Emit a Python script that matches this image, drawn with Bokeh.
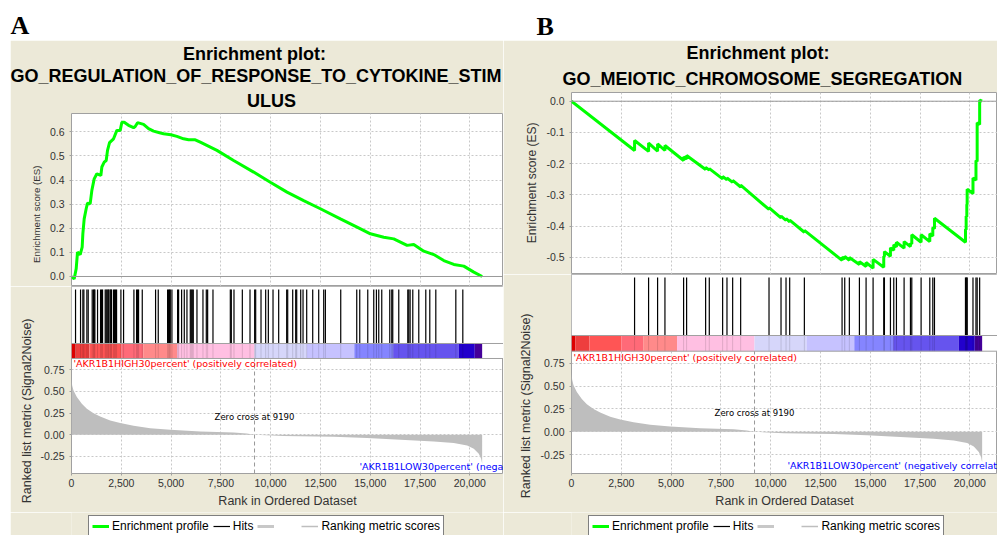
from bokeh.plotting import figure
from bokeh.models import (Range1d, FixedTicker, NumeralTickFormatter, PrintfTickFormatter,
                          Span, Label, Legend, LegendItem, Grid, Title, Spacer)
from bokeh.layouts import column, row
from bokeh.embed import file_html
from bokeh.resources import INLINE

# ---------------- data ----------------
panel_letters = ["A", "B"]
title_lines_a = ["Enrichment plot:", "GO_REGULATION_OF_RESPONSE_TO_CYTOKINE_STIM", "ULUS"]
title_lines_b = ["Enrichment plot:", "GO_MEIOTIC_CHROMOSOME_SEGREGATION"]
pos_label = "'AKR1B1HIGH30percent' (positively correlated)"
neg_label = "'AKR1B1LOW30percent' (negatively correlated)"
es_axis_label = "Enrichment score (ES)"
metric_axis_label = "Ranked list metric (Signal2Noise)"
x_axis_label = "Rank in Ordered Dataset"
legend_labels = ["Enrichment profile", "Hits", " ", "Ranking metric scores"]
zero_cross = 9190

x_ticks = [0, 2500, 5000, 7500, 10000, 12500, 15000, 17500, 20000]
es_ticks_a = [0.0, 0.1, 0.2, 0.3, 0.4, 0.5, 0.6]
es_ticks_b = [-0.5, -0.4, -0.3, -0.2, -0.1, 0.0]
metric_ticks = [-0.25, 0.0, 0.25, 0.5, 0.75]

# ranked list metric (shared by both panels)
metric_rank = [0, 34, 101, 268, 519, 771, 1106, 1441, 1943, 2446, 3116, 3953, 4958, 6466,
               8141, 8800, 9190, 10653, 13166, 14841, 16516, 18191, 19196, 19866, 20201,
               20452, 20569, 20620]
metric_value = [0.646, 0.57, 0.51, 0.435, 0.358, 0.30, 0.25, 0.21, 0.165, 0.135, 0.104,
                0.077, 0.058, 0.038, 0.027, 0.015, 0.0, -0.015, -0.023, -0.038, -0.058,
                -0.077, -0.096, -0.123, -0.16, -0.22, -0.277, -0.335]

# colour bar of the ranked list
cbar_edges = [0, 200, 900, 2500, 3600, 5300, 9190, 11800, 14200, 16150, 19450, 20250, 20620]
cbar_colors = ["#DC0000", "#EE3E3E", "#FF5555", "#FF6A78", "#FF8A8A", "#FFBFE2",
               "#D6D6FA", "#C6C2FF", "#8585FF", "#6654EE", "#2200CC", "#440099"]

# panel A: running enrichment score and hits
es_a_rank = [0, 134, 235, 302, 436, 536, 570, 637, 737, 804, 938, 1022, 1139, 1273, 1474,
             1524, 1642, 1742, 1809, 1910, 2111, 2278, 2446, 2529, 2647, 2864, 3116, 3199,
             3317, 3618, 3869, 4121, 4422, 4623, 4992, 5293, 5628, 5879, 6214, 6466, 7303,
             8141, 9146, 9983, 10821, 11658, 12496, 13501, 14338, 15008, 15678, 16181,
             16851, 17186, 17688, 18191, 18694, 19196, 19698, 20201, 20620]
es_a_value = [0.0, -0.010, 0.032, 0.101, 0.091, 0.122, 0.177, 0.239, 0.281, 0.304, 0.302,
              0.357, 0.405, 0.426, 0.419, 0.454, 0.474, 0.481, 0.523, 0.555, 0.571, 0.606,
              0.606, 0.640, 0.640, 0.627, 0.617, 0.622, 0.638, 0.631, 0.613, 0.603, 0.596,
              0.592, 0.588, 0.581, 0.571, 0.567, 0.567, 0.557, 0.523, 0.481, 0.433, 0.391,
              0.350, 0.315, 0.281, 0.239, 0.205, 0.177, 0.163, 0.156, 0.129, 0.133, 0.105,
              0.091, 0.066, 0.050, 0.043, 0.018, 0.0]
hits_a = [203, 454, 571, 621, 772, 839, 1040, 1107, 1141, 1174, 1308, 1459, 1509, 1559,
          1693, 1744, 1794, 1844, 1878, 1945, 1978, 2012, 2112, 2162, 2213, 2263, 2481,
          2615, 3134, 3268, 3318, 3368, 3553, 4222, 4356, 4826, 4876, 4926, 4960, 5043,
          5328, 5378, 5529, 5663, 5797, 5965, 6015, 6065, 6115, 6300, 6601, 6769, 6836,
          7104, 7975, 8025, 8159, 8578, 8963, 9197, 9248, 9516, 9750, 9884, 10119, 10403,
          10805, 10856, 11107, 11258, 11308, 11509, 11626, 11810, 12112, 12413, 12664,
          12748, 13519, 14323, 14474, 14876, 15177, 15311, 15428, 15579, 15981, 16081,
          16131, 16433, 16886, 16936, 17003, 17137, 17438, 17790, 17991, 18293, 19298, 19649]

# panel B: hits and the running score just before / after each hit
hits_b = [3167, 3871, 4323, 4692, 5629, 5780, 6735, 6919, 7589, 7807, 8092, 8494, 9918,
          10521, 10772, 10956, 11693, 13586, 13720, 13952, 14457, 14792, 15144, 15679,
          15713, 16015, 16182, 16316, 16701, 17020, 17087, 17555, 17991, 18142, 18226,
          19783, 19817, 19850, 19867, 20160, 20310, 20370, 20495]
es_b_before = [-0.158, -0.161, -0.160, -0.158, -0.190, -0.185, -0.219, -0.221, -0.249,
               -0.252, -0.260, -0.275, -0.347, -0.374, -0.382, -0.387, -0.420, -0.510,
               -0.506, -0.510, -0.523, -0.530, -0.535, -0.532, -0.498, -0.497, -0.478,
               -0.467, -0.471, -0.466, -0.458, -0.452, -0.450, -0.432, -0.409, -0.452,
               -0.412, -0.370, -0.331, -0.296, -0.253, -0.193, -0.075]
es_b_after = [-0.126, -0.134, -0.137, -0.142, -0.179, -0.174, -0.212, -0.216, -0.241,
              -0.246, -0.254, -0.269, -0.341, -0.368, -0.376, -0.381, -0.414, -0.500,
              -0.497, -0.501, -0.514, -0.517, -0.507, -0.497, -0.482, -0.470, -0.460,
              -0.452, -0.450, -0.455, -0.428, -0.428, -0.425, -0.405, -0.375, -0.410,
              -0.368, -0.330, -0.282, -0.246, -0.190, -0.069, 0.003]
es_b_start = (0, 0.0)
es_b_end = (20620, 0.0)

# ---------------- style ----------------
BEIGE = "#ECE9D8"
FRAME = "#A0A0A0"
GRIDC = "#C8C8C8"
GREEN = "#00FF00"
AREA = "#BEBEBE"
TXT = "#333333"
SANS = "Liberation Sans"
DIALOG = "DejaVu Sans"
NAN = float("nan")


def base_fig(width, height, xr, yr, left, top, bottom, x_loc):
    p = figure(width=width, height=height, x_range=xr, y_range=yr, title=None,
               output_backend="svg", toolbar_location=None,
               x_axis_location=x_loc, y_axis_location="left",
               min_border_left=left, min_border_right=0,
               min_border_top=top, min_border_bottom=bottom)
    p.border_fill_color = BEIGE
    p.background_fill_color = "white"
    p.outline_line_color = FRAME
    p.outline_line_width = 1
    p.grid.visible = False
    return p


def text_fig(width, height, fill):
    p = figure(width=width, height=height, x_range=Range1d(0, 1), y_range=Range1d(0, 1),
               title=None, output_backend="svg", toolbar_location=None,
               x_axis_location=None, y_axis_location=None, min_border=0)
    p.grid.visible = False
    p.outline_line_color = None
    p.background_fill_color = fill
    p.border_fill_color = fill
    return p


def style_axis(ax, ticks, fmt):
    ax.ticker = FixedTicker(ticks=ticks)
    ax.formatter = fmt
    ax.axis_line_color = None
    ax.major_tick_line_color = FRAME
    ax.major_tick_out = 2
    ax.major_tick_in = 0
    ax.minor_tick_line_color = None
    ax.major_label_text_font = SANS
    ax.major_label_text_font_size = "10.5px"
    ax.major_label_text_color = TXT


def add_grids(p, yticks):
    p.add_layout(Grid(dimension=0, ticker=FixedTicker(ticks=x_ticks), grid_line_color=GRIDC,
                      grid_line_dash="2 2", grid_line_width=1))
    p.add_layout(Grid(dimension=1, ticker=FixedTicker(ticks=yticks), grid_line_color=GRIDC,
                      grid_line_dash="2 2", grid_line_width=1))


def screen_label(p, x, y, text, size, color=TXT, font=SANS, align="center",
                 baseline="middle", style="normal"):
    p.add_layout(Label(x=x, y=y, x_units="screen", y_units="screen", text=text,
                       text_font=font, text_font_size=size, text_color=color,
                       text_align=align, text_baseline=baseline, text_font_style=style))


def side_title(p, text, size, offset, standoff):
    p.add_layout(Title(text=text, align="right", offset=offset, standoff=standoff,
                       text_font=SANS, text_font_size=size, text_font_style="normal",
                       text_color=TXT), "left")


def build_panel(cfg, es_x, es_y, hits, title_lines):
    w = cfg["width"]
    xr = Range1d(0, cfg["x_end"])

    # ---- enrichment score plot, with the chart title above it ----
    top = base_fig(w, cfg["es_h"], xr, Range1d(*cfg["es_range"]), cfg["left"],
                   cfg["title_h"], 0, None)
    # titles are stacked from the frame upwards: last line first
    for txt, (off, stand) in zip(reversed(title_lines), cfg["title_pos"]):
        top.add_layout(Title(text=txt, align="left", offset=off, standoff=stand,
                             text_font=SANS, text_font_size="18px", text_font_style="bold",
                             text_color="black"), "above")
    style_axis(top.yaxis[0], cfg["es_ticks"], PrintfTickFormatter(format="%.1f"))
    top.yaxis[0].major_label_standoff = 5
    side_title(top, es_axis_label, cfg["es_font"], cfg["es_off"], cfg["es_stand"])
    add_grids(top, cfg["es_ticks"])
    top.add_layout(Span(location=0, dimension="width", line_color="#999999", line_width=1))
    top.line(es_x, es_y, line_color=GREEN, line_width=3)

    # ---- hits, colour bar and ranked metric ----
    mlo, mhi = cfg["met_range"]
    cb_lo, cb_hi = cfg["cb"]
    bot = base_fig(w, cfg["bot_h"], xr, Range1d(mlo, mhi), cfg["left"], 0,
                   cfg["bot_border"], "below")
    style_axis(bot.yaxis[0], metric_ticks, PrintfTickFormatter(format="%.2f"))
    bot.yaxis[0].major_label_standoff = 5
    side_title(bot, metric_axis_label, "12.5px", cfg["met_off"], cfg["met_stand"])
    style_axis(bot.xaxis[0], x_ticks, NumeralTickFormatter(format="0,0"))
    bot.xaxis[0].major_label_standoff = 3
    bot.xaxis[0].axis_label = x_axis_label
    bot.xaxis[0].axis_label_text_font = SANS
    bot.xaxis[0].axis_label_text_font_size = "12.5px"
    bot.xaxis[0].axis_label_text_font_style = "normal"
    bot.xaxis[0].axis_label_text_color = TXT
    bot.xaxis[0].axis_label_standoff = 4
    add_grids(bot, metric_ticks)

    bot.varea(x=metric_rank, y1=0, y2=metric_value, fill_color=AREA)
    bot.quad(left=[0], right=[cfg["x_end"]], bottom=cb_lo, top=mhi,
             fill_color="white", line_color=None)
    bot.quad(left=cbar_edges[:-1], right=cbar_edges[1:], bottom=cb_lo, top=cb_hi,
             fill_color=cbar_colors, line_color=None)
    bot.segment(x0=hits, x1=hits, y0=cb_lo, y1=cb_hi, line_color="black", line_alpha=0.13,
                line_width=1)
    bot.segment(x0=hits, x1=hits, y0=cb_hi, y1=cfg["hit_top"], line_color="black",
                line_width=1.2)
    bot.segment(x0=[zero_cross], x1=[zero_cross], y0=mlo, y1=cb_lo, line_color="#999999",
                line_dash="4 3", line_width=1)
    bot.add_layout(Span(location=cb_lo, dimension="width", line_color=FRAME, line_width=1))
    bot.add_layout(Span(location=cb_hi, dimension="width", line_color=FRAME, line_width=1))

    rx, ry = cfg["pos_txt"]
    screen_label(bot, rx, ry, pos_label, "9.5px", color="#FF0000", font=DIALOG, align="left")
    bx, by = cfg["neg_txt"]
    screen_label(bot, bx, by, neg_label, "9.5px", color="#0000FF", font=DIALOG, align="left")
    zx, zy = cfg["zc_txt"]
    screen_label(bot, zx, zy, f"Zero cross at {zero_cross}", "8.5px", color="black",
                 font=DIALOG)

    # ---- legend strip ----
    lfig = text_fig(w, cfg["leg_h"], BEIGE)
    r1 = lfig.line(x=[NAN], y=[NAN], line_color=GREEN, line_width=3)
    r2 = lfig.segment(x0=[NAN], y0=[NAN], x1=[NAN], y1=[NAN], line_color="black",
                      line_width=1.2)
    r3 = lfig.line(x=[NAN], y=[NAN], line_color="#C8C8C8", line_width=3)
    r4 = lfig.line(x=[NAN], y=[NAN], line_color="#BEBEBE", line_width=1.5)
    legend = Legend(items=[LegendItem(label=lab, renderers=[r])
                           for lab, r in zip(legend_labels, [r1, r2, r3, r4])],
                    orientation="horizontal", location=cfg["legend_loc"],
                    label_text_font=SANS, label_text_font_size="12px",
                    label_text_color="black", label_height=14, glyph_height=12,
                    glyph_width=17, label_standoff=3, spacing=4, padding=3, margin=0,
                    border_line_color="black", border_line_width=1,
                    background_fill_color="white", background_fill_alpha=1.0)
    lfig.add_layout(legend)
    return column(top, bot, lfig)


cfg_a = dict(width=493, left=61, x_end=21692, title_h=73,
             title_pos=[(175.5, 6), (-61, 0), (111.5, 0)],
             es_h=246, es_range=(-0.0415, 0.676), es_ticks=es_ticks_a,
             es_font="9.7px", es_off=52, es_stand=10,
             bot_h=226, bot_border=39, met_range=(-0.4465, 1.711), cb=(0.8804, 1.0534),
             hit_top=1.676, met_off=32, met_stand=8,
             pos_txt=(2, 110), neg_txt=(288, 7), zc_txt=(183, 57),
             leg_h=23, legend_loc=(17, -2))
cfg_b = dict(width=494, left=68, x_end=21391, title_h=52,
             title_pos=[(-9, 8), (115, 0)],
             es_h=234, es_range=(-0.5554, 0.0279), es_ticks=es_ticks_b,
             es_font="12px", es_off=30, es_stand=9,
             bot_h=238, bot_border=39, met_range=(-0.4559, 1.7197), cb=(0.8812, 1.0528),
             hit_top=1.687, met_off=39, met_stand=9,
             pos_txt=(2, 115.7), neg_txt=(216, 8), zc_txt=(183, 60.3),
             leg_h=23, legend_loc=(17, -2))

# running score of panel B assembled from the before/after values
es_b_x = [es_b_start[0]]
es_b_y = [es_b_start[1]]
for r, b, a in zip(hits_b, es_b_before, es_b_after):
    es_b_x += [r, r]
    es_b_y += [b, a]
es_b_x.append(es_b_end[0])
es_b_y.append(es_b_end[1])

panel_a = build_panel(cfg_a, es_a_rank, es_a_value, hits_a, title_lines_a)
panel_b = build_panel(cfg_b, es_b_x, es_b_y, hits_b, title_lines_b)

header = text_fig(997, 40, "white")
for (lx, ly), letter in zip([(10, 15), (536, 14.5)], panel_letters):
    header.add_layout(Label(x=lx, y=ly, x_units="screen", y_units="screen", text=letter,
                            text_font="Liberation Serif", text_font_style="bold",
                            text_font_size="26px", text_color="black",
                            text_baseline="middle"))

page = column(header, row(Spacer(width=10, height=495), panel_a, panel_b))
open("out.html", "w").write(file_html(page, INLINE, title="GSEA enrichment plots"))
